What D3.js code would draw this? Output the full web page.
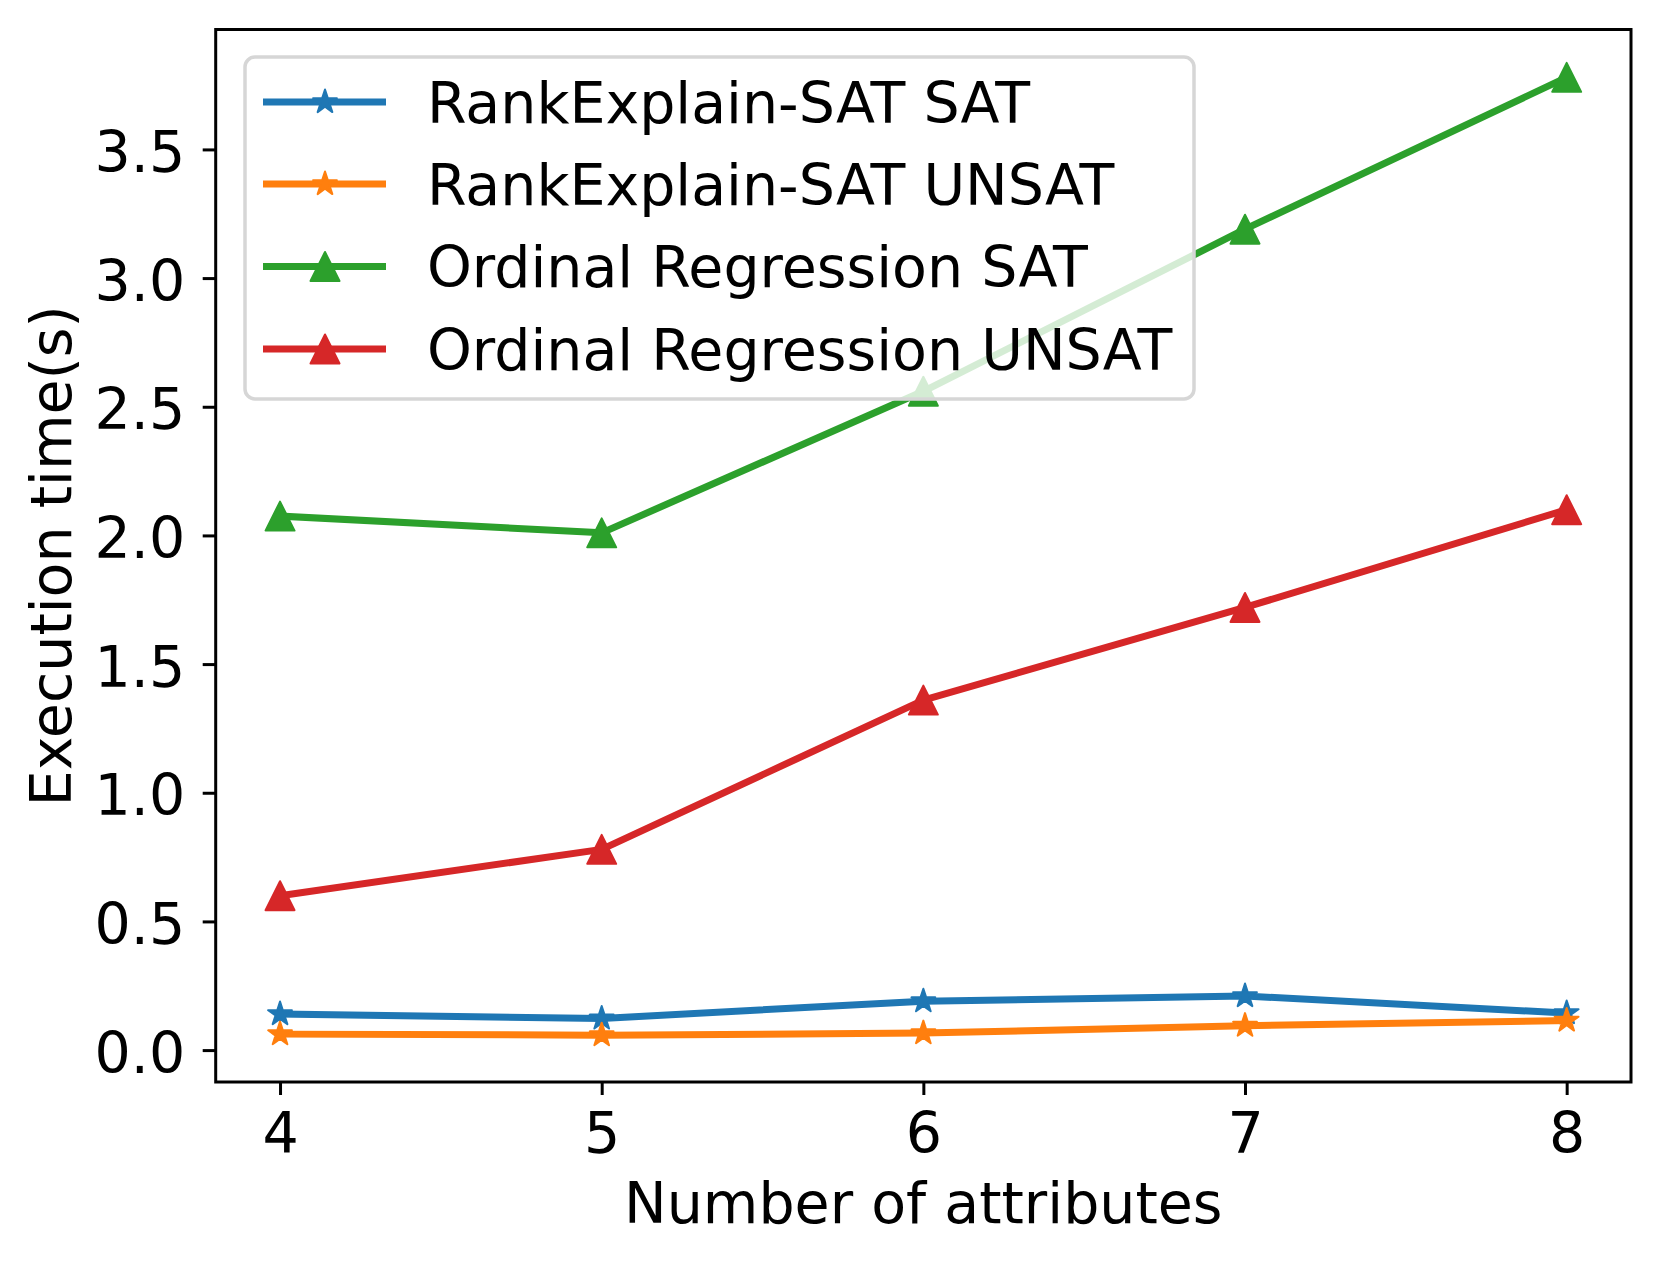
<!DOCTYPE html>
<html><head><meta charset="utf-8">
<script src="https://cdn.jsdelivr.net/npm/d3@7"></script>
<style>body{margin:0;background:#fff;}svg{display:block;font-family:"DejaVu Sans",sans-serif;}</style>
</head><body>
<svg id="c" width="1660" height="1263"></svg>
<script>
const attributes = [4, 5, 6, 7, 8];
const rankSat = [0.14, 0.123, 0.19, 0.21, 0.144];
const rankUnsat = [0.062, 0.058, 0.066, 0.095, 0.115];
const ordSat = [2.075, 2.01, 2.56, 3.19, 3.78];
const ordUnsat = [0.60, 0.78, 1.36, 1.72, 2.10];
const seriesNames = ["RankExplain-SAT SAT", "RankExplain-SAT UNSAT", "Ordinal Regression SAT", "Ordinal Regression UNSAT"];
const seriesColors = ["#1f77b4", "#ff7f0e", "#2ca02c", "#d62728"];
const seriesMarkers = ["star", "star", "triangle", "triangle"];
const yTicks = [0.0, 0.5, 1.0, 1.5, 2.0, 2.5, 3.0, 3.5];
const xLabel = "Number of attributes";
const yLabel = "Execution time(s)";

const series = [rankSat, rankUnsat, ordSat, ordUnsat].map((v, i) => ({
  name: seriesNames[i], color: seriesColors[i], marker: seriesMarkers[i],
  values: v.map((y, j) => ({x: attributes[j], y}))
}));

const svg = d3.select("#c");
const L = 215.7, R = 1631, T = 29.5, B = 1082;
const FS = 57;
const x = d3.scaleLinear().domain([3.8, 8.2]).range([L, R]);
const y = d3.scaleLinear().domain([-0.124, 3.966]).range([B, T]);

function starPath(r) {
  const pts = [];
  for (let k = 0; k < 10; k++) {
    const rr = k % 2 === 0 ? r : r * 0.381966;
    const a = -Math.PI / 2 + k * Math.PI / 5;
    pts.push([rr * Math.cos(a), rr * Math.sin(a)]);
  }
  return "M" + pts.map(p => p.join(",")).join("L") + "Z";
}
function triPath(r) {
  return `M0,${-r}L${r},${r}L${-r},${r}Z`;
}
function markerPath(m) { return m === "star" ? starPath(12.5) : triPath(14.5); }

const g = svg.append("g");
const line = d3.line().x(d => x(d.x)).y(d => y(d.y));
series.forEach(s => {
  g.append("path").datum(s.values).attr("d", line)
    .attr("fill", "none").attr("stroke", s.color).attr("stroke-width", 7)
    .attr("stroke-linejoin", "round").attr("stroke-linecap", "square");
  g.selectAll(null).data(s.values).enter().append("path")
    .attr("d", markerPath(s.marker))
    .attr("transform", d => `translate(${x(d.x)},${y(d.y)})`)
    .attr("fill", s.color).attr("stroke", s.color).attr("stroke-width", 2)
    .attr("stroke-linejoin", "round");
});

// axes
const xAxis = d3.axisBottom(x).tickValues(attributes).tickFormat(d3.format("d")).tickSize(13).tickPadding(17.5);
const yAxis = d3.axisLeft(y).tickValues(yTicks).tickFormat(d3.format(".1f")).tickSize(13).tickPadding(17.5);
const gx = svg.append("g").attr("transform", `translate(0,${B})`).call(xAxis);
const gy = svg.append("g").attr("transform", `translate(${L},0)`).call(yAxis);
[gx, gy].forEach(a => {
  a.select(".domain").remove();
  a.selectAll(".tick line").attr("stroke", "#000").attr("stroke-width", 3);
  a.selectAll(".tick text").attr("fill", "#000").attr("font-size", FS).attr("font-family", "DejaVu Sans");
});
gx.selectAll(".tick text").attr("dy", "0.71em");
gy.selectAll(".tick text").attr("dy", "0.385em");
svg.append("rect").attr("x", L).attr("y", T).attr("width", R - L).attr("height", B - T)
  .attr("fill", "none").attr("stroke", "#000").attr("stroke-width", 3);

svg.append("text").attr("x", (L + R) / 2).attr("y", 1223).attr("text-anchor", "middle")
  .attr("font-size", FS).attr("fill", "#000").text(xLabel);
svg.append("text").attr("transform", `translate(71,${(T + B) / 2}) rotate(-90)`)
  .attr("text-anchor", "middle").attr("font-size", FS).attr("fill", "#000").text(yLabel);

// legend
const lg = svg.append("g");
lg.append("rect").attr("x", 245).attr("y", 57).attr("width", 949).attr("height", 342)
  .attr("rx", 10).attr("fill", "#fff").attr("fill-opacity", 0.8)
  .attr("stroke", "#d6d6d6").attr("stroke-width", 3.5);
const rowY = [102, 184, 266.5, 349];
series.forEach((s, i) => {
  const ry = rowY[i];
  lg.append("line").attr("x1", 263).attr("x2", 386).attr("y1", ry).attr("y2", ry)
    .attr("stroke", s.color).attr("stroke-width", 7);
  lg.append("path").attr("d", markerPath(s.marker)).attr("transform", `translate(325,${ry})`)
    .attr("fill", s.color).attr("stroke", s.color).attr("stroke-width", 2)
    .attr("stroke-linejoin", "round");
  lg.append("text").attr("x", 427).attr("y", ry).attr("dy", "0.36em")
    .attr("font-size", FS).attr("fill", "#000").text(s.name);
});
</script>
</body></html>
